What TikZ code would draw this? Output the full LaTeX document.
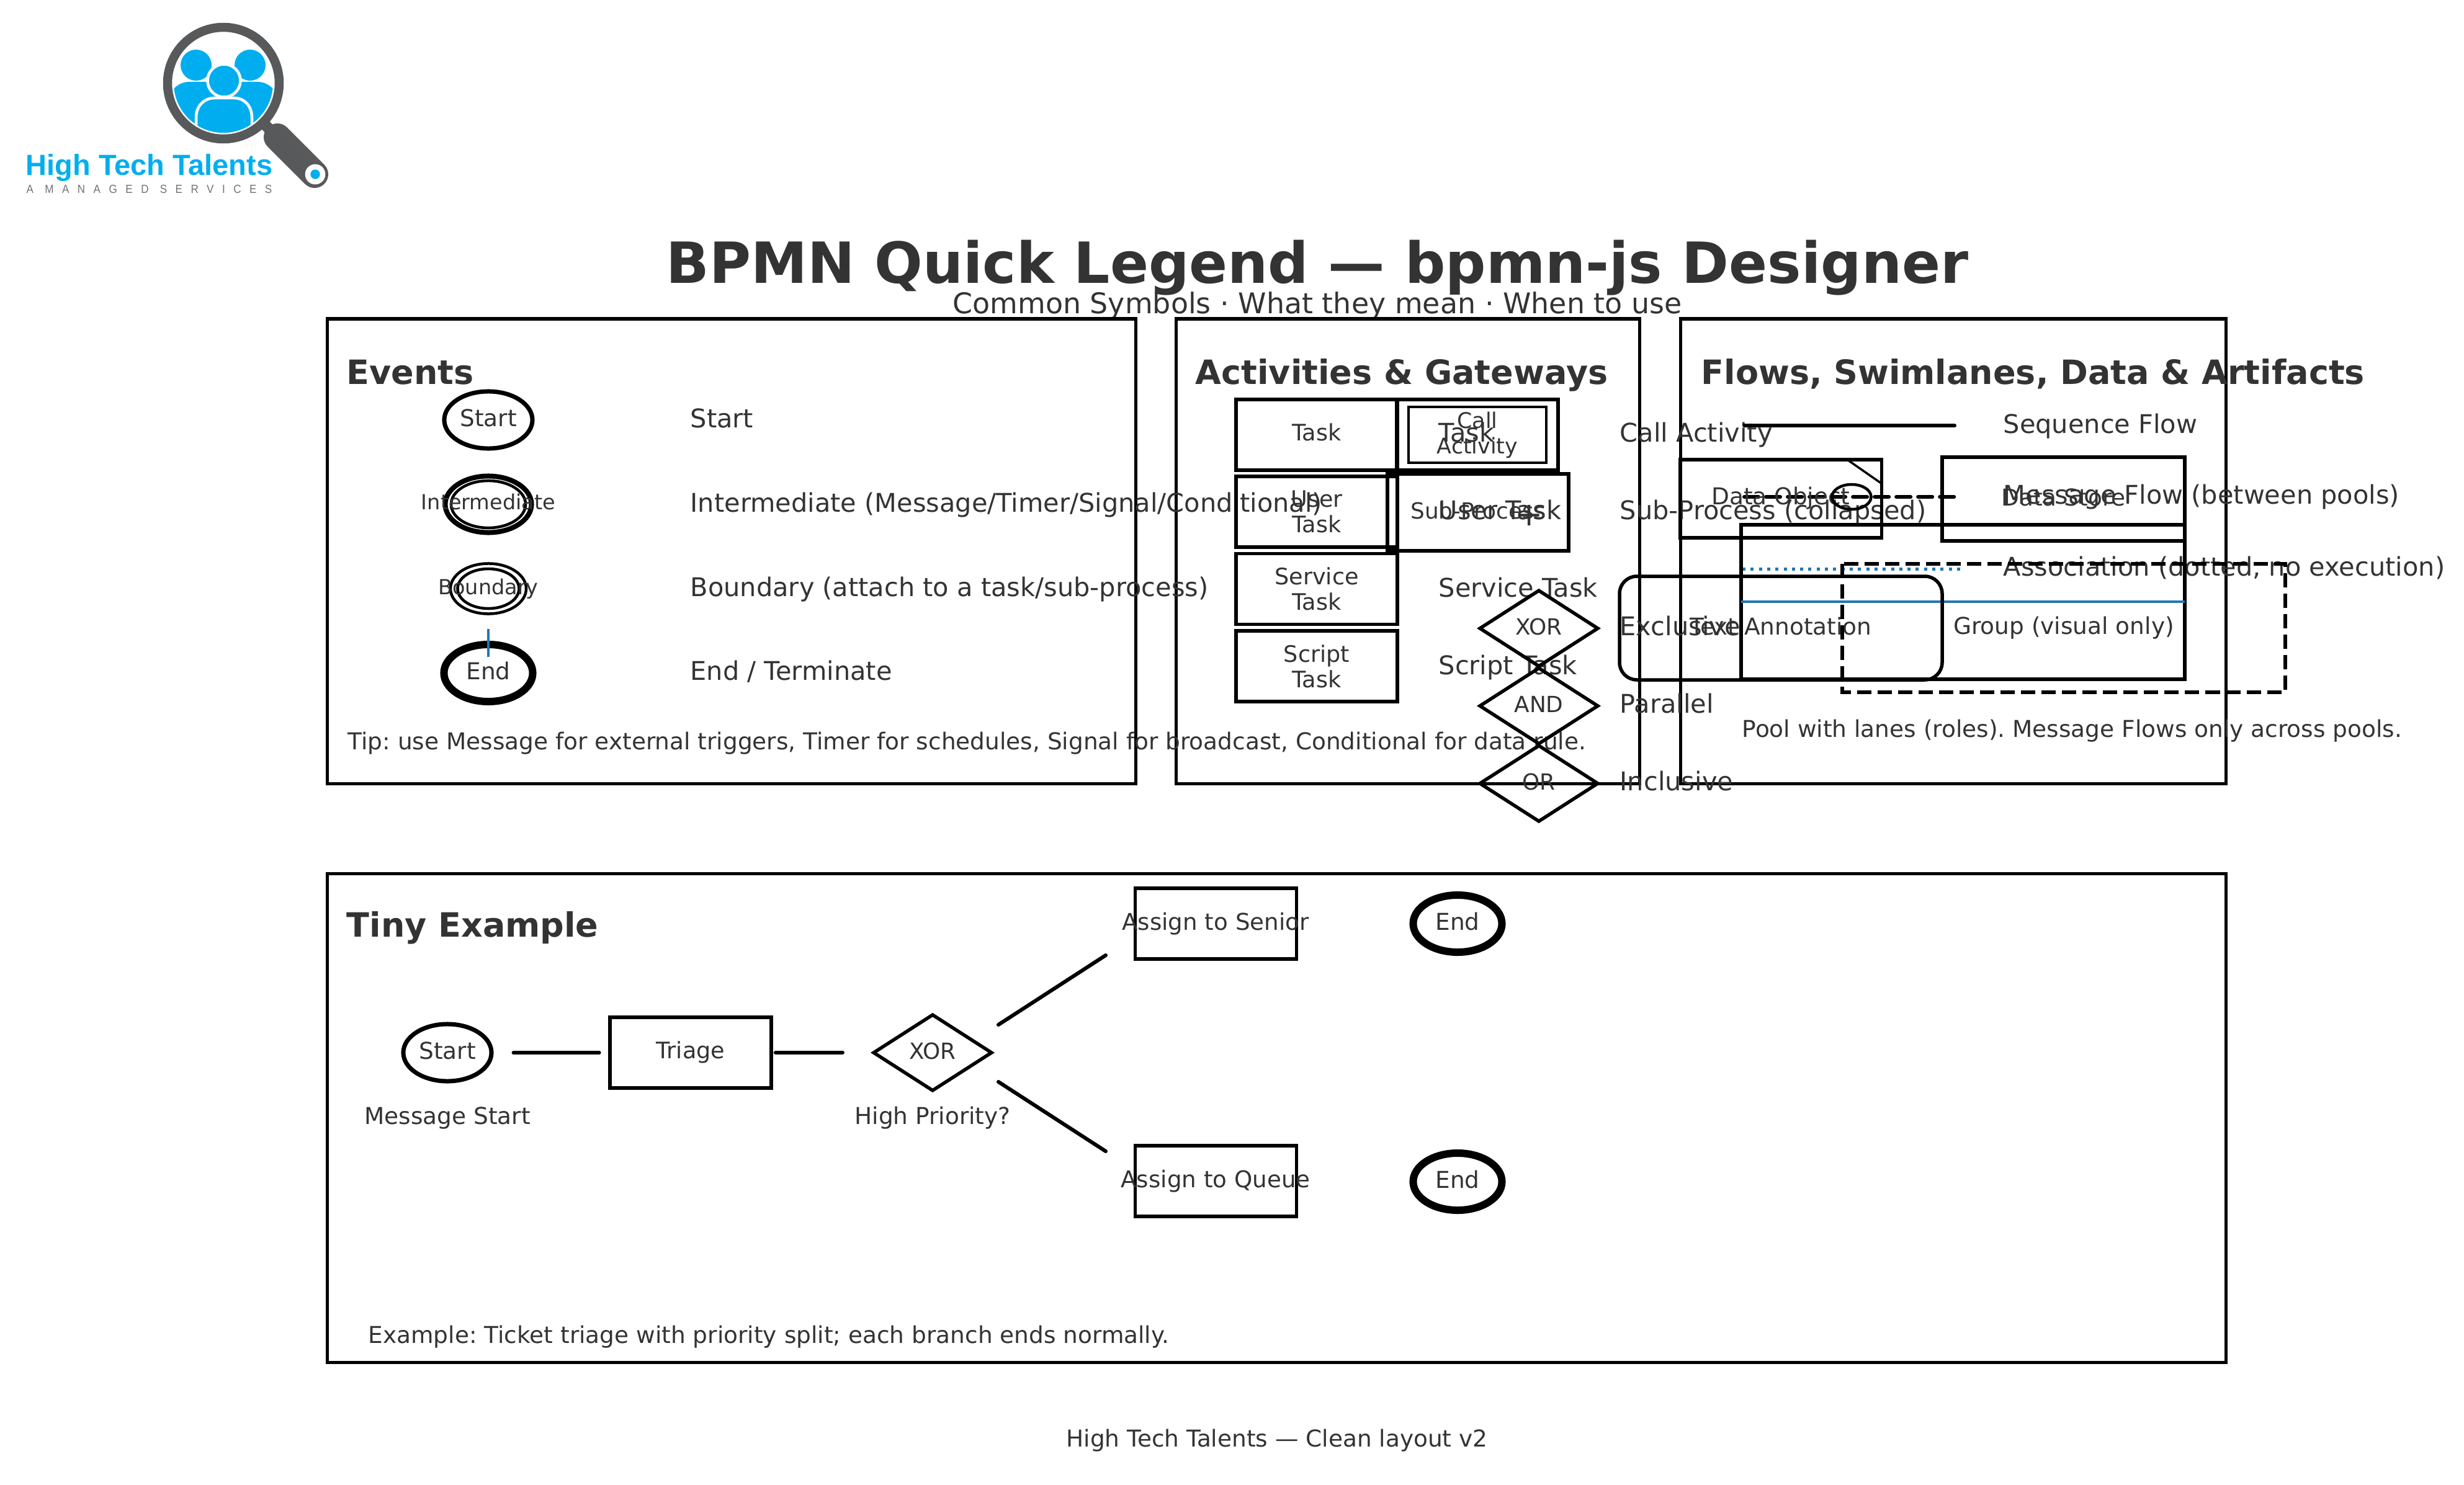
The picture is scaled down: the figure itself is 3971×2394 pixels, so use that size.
\documentclass[tikz,border=0pt]{standalone}
\usepackage{fontspec}
\setmainfont{DejaVu Sans}
\newfontfamily\logohead{Liberation Sans}
\newfontfamily\logosub[LetterSpace=71,FakeStretch=0.9]{Liberation Sans}
\usetikzlibrary{shapes.geometric}
\definecolor{ink}{HTML}{333333}
\definecolor{logoblue}{HTML}{00AEEF}
\definecolor{logogray}{HTML}{58595B}
\definecolor{lanecolor}{HTML}{1F77B4}
\tikzset{
	x=0.01cm, y=-0.01cm,
	txt/.style={inner sep=0, text=ink},
	toptitle/.style={txt, font=\fontsize{26}{30}\bfseries\selectfont, text height=20pt, text depth=5.5pt},
	subtitle/.style={txt, font=\fontsize{13.06}{16}\selectfont, text height=10pt, text depth=2.7pt},
	heading/.style={txt, anchor=west, font=\fontsize{15.35}{18}\bfseries\selectfont, text height=11.6pt, text depth=3.2pt},
	legend/.style={txt, anchor=west, font=\fontsize{11.8}{14}\selectfont, text height=9pt, text depth=2.5pt},
	note/.style={txt, font=\fontsize{10.65}{13}\selectfont, text height=8pt, text depth=2.2pt},
	small/.style={txt, font=\fontsize{9.53}{11.6}\selectfont, text height=7.2pt, text depth=2pt},
	panel/.style={draw, line width=0.05cm},
	shapeline/.style={line width=0.055cm},
	event/.style={note, draw, ellipse, line width=0.07cm, minimum width=1.42cm, minimum height=0.92cm},
	endevent/.style={event, line width=0.12cm, minimum width=1.43cm},
	ring/.style={draw, ellipse, inner sep=0},
	task/.style={draw, inner sep=0, text=ink, line width=0.055cm, minimum width=2.6cm, minimum height=1.14cm, align=center, font=\fontsize{10.4}{11.67}\selectfont},
	gateway/.style={note, draw, diamond, aspect=1.5, line width=0.055cm, minimum width=1.92cm, minimum height=1.24cm, font=\fontsize{10.2}{13}\selectfont},
	flowline/.style={line width=0.06cm, line cap=round}
}
\begin{document}
\frenchspacing
\begin{tikzpicture}
	\useasboundingbox (0,0) rectangle (3971,2394);

	%%%%% LOGO %%%%%
	\begin{scope}
		\clip (360,134) circle (80);
		\fill[logoblue] (280,143) .. controls (287,136) and (295,132) .. (305,132) -- (415,132) .. controls (425,132) and (433,136) .. (440,143) -- (440,220) -- (280,220) -- cycle;
		\fill[logoblue] (316,105) circle (25);
		\fill[logoblue] (403,105) circle (25);
		\filldraw[logoblue, draw=white, line width=0.045cm] (361,130) circle (26.5);
		\filldraw[logoblue, draw=white, line width=0.045cm] (316,225) -- (316,190) .. controls (316,170) and (330,158) .. (345,158) -- (378,158) .. controls (393,158) and (406,170) .. (406,190) -- (406,225) -- cycle;
	\end{scope}
	\draw[logogray, line width=0.145cm] (360,134) circle (90);
	\draw[logogray, line width=0.18cm] (428,202) -- (447,221);
	\draw[logogray, line width=0.44cm, line cap=round] (447,221) -- (507,281);
	\fill[white] (508,281) circle (16.3);
	\fill[logoblue] (508,281) circle (7.7);
	\node[anchor=base west, inner sep=0, text=logoblue, font=\fontsize{13.35}{15}\logohead\bfseries\selectfont] (logoname) at (41,283) {High Tech Talents};
	\node[anchor=base west, inner sep=0, text=logogray!85, font=\fontsize{5.4}{7}\logosub\selectfont] (logotag) at (42,312) {A MANAGED SERVICES};

	%%%%% TITLE %%%%%
	\node[toptitle] (maintitle) at (2123,431) {BPMN Quick Legend — bpmn-js Designer};
	\node[subtitle] (mainsub) at (2123,493) {Common Symbols · What they mean · When to use};

	\draw[panel] (527,514) rectangle (1830,1263);
	\draw[panel] (1895,514) rectangle (2642,1263);
	\draw[panel] (2708,514) rectangle (3587,1263);
	\draw[panel] (527,1408) rectangle (3587,2196);

	%%%%% EVENTS %%%%%
	\node[heading] (evhead) at (558,605) {Events};

	\node[event] (evstart) at (787,677) {Start};
	\node[legend] (evstartlbl) at (1112,678) {Start};

	\node[ring, line width=0.08cm, minimum width=1.39cm, minimum height=0.91cm] (evinter) at (787,813) {};
	\node[ring, line width=0.045cm, minimum width=1.2cm, minimum height=0.76cm] (evinterin) at (787,813) {};
	\node[small] (evintertxt) at (787,812) {Intermediate};
	\node[legend] (evinterlbl) at (1112,814) {Intermediate (Message/Timer/Signal/Conditional)};

	\node[ring, line width=0.045cm, minimum width=1.22cm, minimum height=0.81cm] (evbound) at (787,949) {};
	\node[ring, line width=0.045cm, minimum width=0.99cm, minimum height=0.64cm] (evboundin) at (787,949) {};
	\node[small] (evboundtxt) at (787,949) {Boundary};
	\node[legend] (evboundlbl) at (1112,950) {Boundary (attach to a task/sub-process)};

	\node[endevent] (evend) at (787,1085) {End};
	\node[legend] (evendlbl) at (1112,1085) {End / Terminate};
	\draw[lanecolor, line width=0.035cm] (787,1014) -- (787,1059);

	\node[note, anchor=west] (evtip) at (560,1198) {Tip: use Message for external triggers, Timer for schedules, Signal for broadcast, Conditional for data rule.};

	%%%%% ACTIVITIES %%%%%
	\node[heading] (achead) at (1926,605) {Activities \& Gateways};

	\node[task, text height=7.6pt, text depth=2pt] (actask) at (2122,701) {Task};
	\node[task] (acuser) at (2122,825) {User\\Task};
	\node[task] (acservice) at (2122,949.5) {Service\\Task};
	\node[task] (acscript) at (2122,1074) {Script\\Task};
	\node[legend] (actasklbl) at (2318,701) {Task};
	\node[legend] (acuserlbl) at (2318,826) {User Task};
	\node[legend] (acservicelbl) at (2318,951) {Service Task};
	\node[legend] (acscriptlbl) at (2318,1076) {Script Task};

	\node[task] (accall) at (2381,701) {};
	\node[task, line width=0.04cm, minimum width=2.22cm, minimum height=0.89cm, font=\fontsize{9.9}{11.67}\selectfont] (accallin) at (2381,701) {Call\\Activity};
	\node[legend] (accalllbl) at (2610,701) {Call Activity};

	\node[task, minimum width=2.92cm, minimum height=1.24cm, font=\fontsize{10.2}{13}\selectfont, text height=7.8pt, text depth=2.1pt] (acsub) at (2382,826) {Sub-Process};
	\node[txt, font=\fontsize{15}{18}\selectfont] (acplus) at (2465,831) {+};
	\node[legend] (acsublbl) at (2610,826) {Sub-Process (collapsed)};

	\node[gateway] (acxor) at (2480,1013) {XOR};
	\node[gateway] (acand) at (2480,1138) {AND};
	\node[gateway] (acor) at (2480,1263) {OR};
	\node[legend] (acxorlbl) at (2610,1013) {Exclusive};
	\node[legend] (acandlbl) at (2610,1138) {Parallel};
	\node[legend] (acorlbl) at (2610,1263) {Inclusive};

	%%%%% FLOWS %%%%%
	\node[heading] (flhead) at (2741,605) {Flows, Swimlanes, Data \& Artifacts};

	\coordinate (seqa) at (2811,686);
	\coordinate (seqb) at (3150,686);
	\coordinate (msga) at (2811,801);
	\coordinate (msgb) at (3150,801);
	\coordinate (asca) at (2808,917);
	\coordinate (ascb) at (3162,917);
	\draw[flowline] (seqa) -- (seqb);
	\draw[flowline, dash pattern=on 0.23cm off 0.12cm] (msga) -- (msgb);
	\draw[lanecolor, line width=0.05cm, dash pattern=on 0.05cm off 0.083cm] (asca) -- (ascb);
	\node[legend] (flseq) at (3228,687) {Sequence Flow};
	\node[legend] (flmsg) at (3228,801) {Message Flow (between pools)};
	\node[legend] (flasc) at (3228,917) {Association (dotted, no execution)};

	\node[task, minimum width=3.25cm, minimum height=1.26cm] (fldata) at (2870,804) {};
	\node[note] (fldatatxt) at (2870,803) {Data Object};
	\draw[line width=0.035cm] (2977,741) -- (3033,780);
	\node[ring, line width=0.045cm, minimum width=0.63cm, minimum height=0.4cm] (flevent) at (2984,801) {};

	\node[task, minimum width=3.91cm, minimum height=1.35cm] (flstore) at (3325.5,804.5) {};
	\node[note] (flstoretxt) at (3325.5,805) {Data Store};

	\draw[shapeline] (2806,846) rectangle (3521,1095);
	\draw[lanecolor, line width=0.04cm] (2806,970) -- (3521,970);

	\draw[shapeline, rounded corners=0.28cm] (2610,929) rectangle (3130,1096);
	\node[note] (flannot) at (2870,1013) {Text Annotation};
	\node[note] (flgroup) at (3326,1012) {Group (visual only)};

	\draw[shapeline, line width=0.06cm, dash pattern=on 0.23cm off 0.10cm] (2969,909) rectangle (3683,1116);

	\node[note, anchor=west] (flpool) at (2807,1178) {Pool with lanes (roles). Message Flows only across pools.};

	%%%%% EXAMPLE %%%%%
	\node[heading] (exhead) at (558,1496) {Tiny Example};

	\node[event] (exstart) at (721,1697) {Start};
	\node[note] (exstartlbl) at (721,1802) {Message Start};
	\node[task, text height=7.6pt, text depth=2pt] (extriage) at (1113,1697) {Triage};
	\node[gateway] (exxor) at (1503,1697) {XOR};
	\node[note] (exxorlbl) at (1503,1802) {High Priority?};
	\node[task] (exsenior) at (1959.5,1489) {};
	\node[note, font=\fontsize{10.58}{13}\selectfont] (exseniortxt) at (1959,1489) {Assign to Senior};
	\node[task] (exqueue) at (1959.5,1904) {};
	\node[note, font=\fontsize{10.58}{13}\selectfont] (exqueuetxt) at (1959,1904) {Assign to Queue};
	\node[endevent] (exendup) at (2349,1489) {End};
	\node[endevent] (exenddown) at (2349,1905) {End};

	\coordinate (upa) at (1609,1652);
	\coordinate (upb) at (1782,1540);
	\coordinate (downa) at (1609,1744);
	\coordinate (downb) at (1782,1856);
	\draw[flowline, shorten <=0.32cm, shorten >=0.145cm] (exstart) -- (extriage);
	\draw[flowline, shorten <=0.04cm, shorten >=1.45cm] (extriage) -- (exxor.center);
	\draw[flowline] (upa) -- (upb);
	\draw[flowline] (downa) -- (downb);

	\node[note, anchor=west] (exnote) at (593,2155) {Example: Ticket triage with priority split; each branch ends normally.};

	\node[note] (footer) at (2058,2322) {High Tech Talents — Clean layout v2};
\end{tikzpicture}
\end{document}
